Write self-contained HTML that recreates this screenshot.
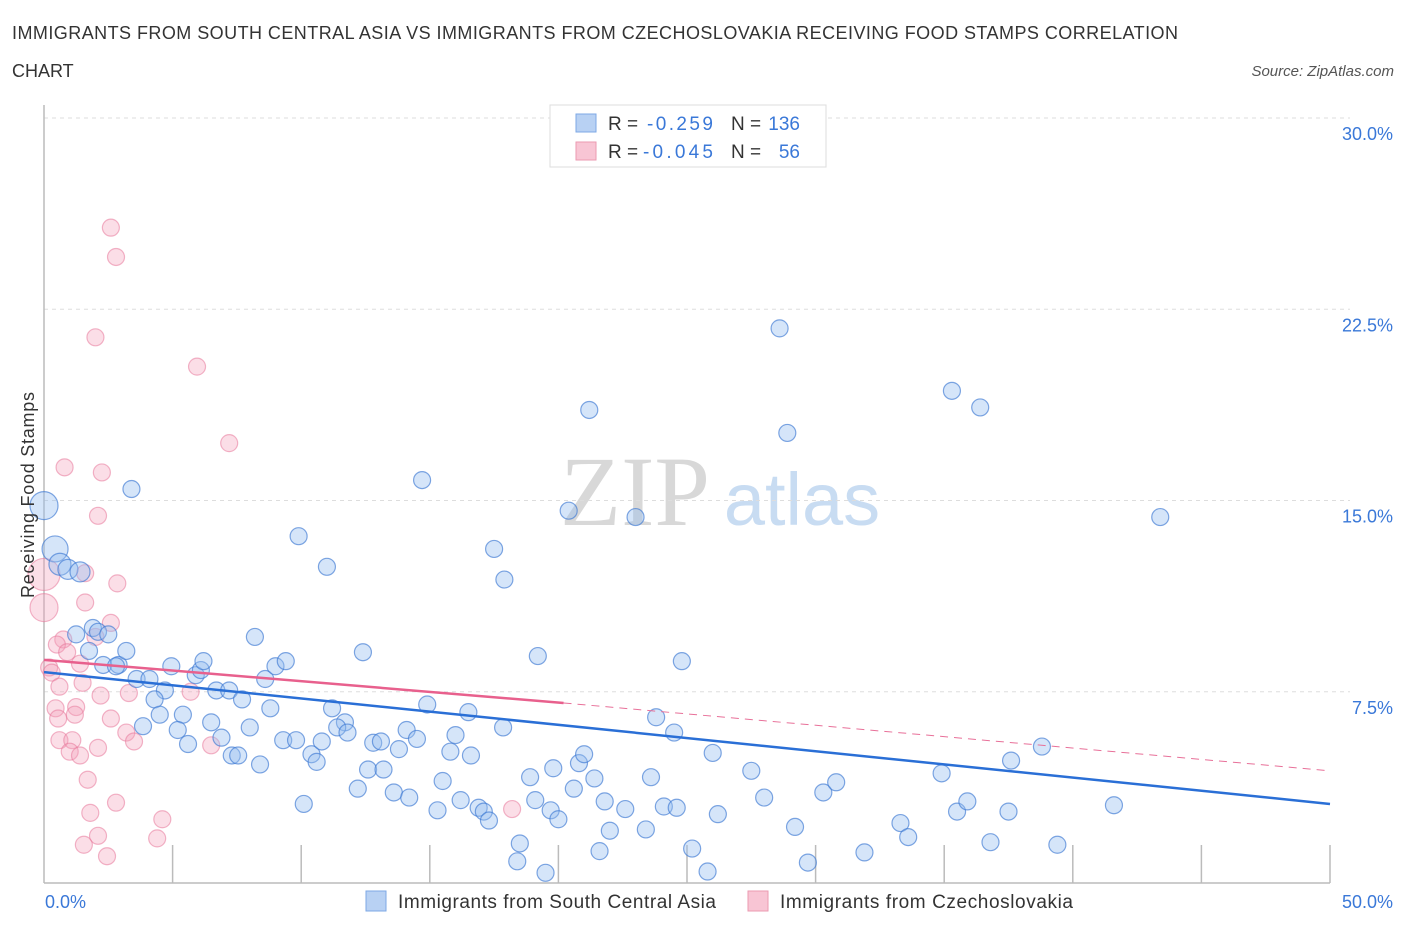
<!DOCTYPE html>
<html><head><meta charset="utf-8"><style>
body{margin:0;background:#fff;font-family:"Liberation Sans",sans-serif}
</style></head><body>
<svg id="chart" width="1406" height="930" font-family="Liberation Sans, sans-serif">
<text x="12" y="39" font-size="18" fill="#333" textLength="1166" lengthAdjust="spacing">IMMIGRANTS FROM SOUTH CENTRAL ASIA VS IMMIGRANTS FROM CZECHOSLOVAKIA RECEIVING FOOD STAMPS CORRELATION</text>
<text x="12" y="77" font-size="18" fill="#333">CHART</text>
<text x="1394" y="76" font-size="15" fill="#555" font-style="italic" text-anchor="end">Source: ZipAtlas.com</text>
<text x="635" y="525" font-size="100" fill="#d8d8d8" style="font-family:'Liberation Serif',serif" text-anchor="middle">ZIP</text>
<text x="802" y="525" font-size="74" fill="#c8dcf2" text-anchor="middle">atlas</text>
<g id="grid"></g>
<g id="axes"></g>
<g id="marks"></g>
<text transform="translate(34,495) rotate(-90)" font-size="18" fill="#333" text-anchor="middle" textLength="206">Receiving Food Stamps</text>
<text x="45" y="908" font-size="18" fill="#3a78d8">0.0%</text>
<text x="1393" y="908" font-size="18" fill="#3a78d8" text-anchor="end">50.0%</text>
<g>
<rect x="550" y="105" width="276" height="62" fill="#fff" stroke="#ddd"/>
<rect x="576" y="114" width="20" height="18" fill="#b8d1f3" stroke="#7ea8e6"/>
<rect x="576" y="142" width="20" height="18" fill="#f8c5d4" stroke="#eb9ab1"/>
<text x="608" y="130" font-size="19" fill="#333">R =</text>
<text x="647" y="130" font-size="19" fill="#3a78d8" textLength="66">-0.259</text>
<text x="731" y="130" font-size="19" fill="#333">N =</text>
<text x="800" y="130" font-size="19" fill="#3a78d8" text-anchor="end">136</text>
<text x="608" y="158" font-size="19" fill="#333">R =</text>
<text x="643" y="158" font-size="19" fill="#3a78d8" textLength="70">-0.045</text>
<text x="731" y="158" font-size="19" fill="#333">N =</text>
<text x="800" y="158" font-size="19" fill="#3a78d8" text-anchor="end">56</text>
</g>
<g>
<rect x="366" y="891" width="20" height="20" fill="#b8d1f3" stroke="#7ea8e6"/>
<text x="398" y="908" font-size="19" fill="#333" textLength="318">Immigrants from South Central Asia</text>
<rect x="748" y="891" width="20" height="20" fill="#f8c5d4" stroke="#eb9ab1"/>
<text x="780" y="908" font-size="19" fill="#333" textLength="293">Immigrants from Czechoslovakia</text>
</g>
</svg>
<script>
const yTicks=[7.5,15,22.5,30];
const yTickLabels=["7.5%","15.0%","22.5%","30.0%"];
const blueX=[0,0.43,0.62,0.93,1.4,3.4,9.9,11.0,14.7,17.5,17.9,20.4,21.2,23.0,28.6,28.9,35.3,36.4,43.4,19.2,24.8,12.4,8.2,1.25,1.9,2.1,2.5,1.75,2.3,2.9,3.2,2.8,3.6,4.1,4.7,4.95,5.9,6.1,6.2,6.7,7.2,4.3,7.7,8.6,9.0,9.4,4.5,5.4,3.85,5.2,6.5,8.0,8.8,5.6,6.9,7.3,7.55,8.4,9.3,9.8,10.4,10.6,10.8,11.2,11.7,11.4,11.8,10.1,12.2,12.6,12.8,13.2,13.1,13.6,13.8,14.1,14.5,14.9,14.2,15.3,15.5,15.8,16.0,16.5,16.6,16.2,16.9,17.1,17.3,17.85,18.5,18.4,18.9,19.1,19.5,19.7,19.8,20.0,20.6,20.8,21.0,21.4,21.6,21.8,22.0,22.6,23.4,23.6,23.8,24.1,24.6,24.5,25.2,25.8,26.0,26.2,27.5,28.0,29.2,29.7,30.3,30.8,31.9,33.3,33.6,34.9,35.5,35.9,36.8,37.5,37.6,38.8,39.4,41.6];
const blueY=[14.8,13.1,12.5,12.3,12.2,15.45,13.6,12.4,15.8,13.1,11.9,14.6,18.55,14.35,21.75,17.65,19.3,18.65,14.35,8.9,8.7,9.05,9.65,9.75,10.0,9.85,9.75,9.1,8.55,8.55,9.1,8.5,8.0,8.0,7.55,8.5,8.15,8.35,8.7,7.55,7.55,7.2,7.2,8.0,8.5,8.7,6.6,6.6,6.15,6.0,6.3,6.1,6.85,5.45,5.7,5.0,5.0,4.65,5.6,5.6,5.05,4.75,5.55,6.85,6.3,6.1,5.9,3.1,3.7,4.45,5.5,4.45,5.55,3.55,5.25,6.0,5.65,7.0,3.35,2.85,4.0,5.15,5.8,6.7,5.0,3.25,2.95,2.8,2.45,6.1,1.55,0.85,4.15,3.25,0.4,2.85,4.5,2.5,3.7,4.7,5.05,4.1,1.25,3.2,2.05,2.9,2.1,4.15,6.5,3.0,2.95,5.9,1.35,0.45,5.1,2.7,4.4,3.35,2.2,0.8,3.55,3.95,1.2,2.35,1.8,4.3,2.8,3.2,1.6,2.8,4.8,5.35,1.5,3.05];
const blueR=[14,13,11,10,10];
const pinkX=[0,0,2.6,2.8,2.0,5.95,7.2,0.8,2.25,2.1,2.85,1.6,1.6,2.6,0.75,0.5,0.9,1.4,0.2,0.3,2.0,1.5,0.6,2.2,3.3,5.7,0.45,1.25,1.2,2.6,0.55,3.2,0.6,1.1,2.1,3.5,6.5,1.0,1.4,1.7,2.8,1.8,4.6,2.1,1.55,4.4,2.45,18.2];
const pinkY=[10.8,12.1,25.7,24.55,21.4,20.25,17.25,16.3,16.1,14.4,11.75,11.0,12.15,10.2,9.55,9.35,9.05,8.6,8.45,8.25,9.65,7.85,7.7,7.35,7.45,7.5,6.85,6.9,6.6,6.45,6.45,5.9,5.6,5.6,5.3,5.55,5.4,5.15,5.0,4.05,3.15,2.75,2.5,1.85,1.5,1.75,1.05,2.9];
const pinkR=[14,16];
const blueLine=[[0,8.27],[50,3.1]];
const pinkSolid=[[0,8.75],[20.2,7.06]];
const pinkDash=[[20.2,7.06],[50,4.4]];

const X0=44,X1=1330,Y0=883,Y30=118;
function sx(v){return X0+(X1-X0)*v/50;}
function sy(v){return Y0-(Y0-Y30)*v/30;}
const NS="http://www.w3.org/2000/svg";
function mk(t,a,p){const e=document.createElementNS(NS,t);for(const k in a)e.setAttribute(k,a[k]);p.appendChild(e);return e;}
const grid=document.getElementById('grid'),axes=document.getElementById('axes'),marks=document.getElementById('marks');
yTicks.forEach((t,i)=>{
  const l=mk('line',{x1:X0,x2:X1+20,y1:sy(t),y2:sy(t),stroke:'#ddd','stroke-dasharray':'4,4'},grid);
  
  
  const tx=mk('text',{x:1393,y:sy(t)+22,'font-size':18,fill:'#3a78d8','text-anchor':'end'},grid);
  tx.textContent=yTickLabels[i];
  
  
});
let a=mk('line',{x1:X0,x2:X0,y1:105,y2:Y0,stroke:'#bbb','stroke-width':1.5},axes);


a=mk('line',{x1:X0,x2:X1,y1:Y0,y2:Y0,stroke:'#bbb','stroke-width':1.5},axes);


for(let i=1;i<=10;i++){
  const t=mk('line',{x1:sx(i*5),x2:sx(i*5),y1:Y0-38,y2:Y0,stroke:'#bbb','stroke-width':1.5},axes);
  
  
}
pinkX.forEach((x,i)=>{
  const c=mk('circle',{cx:sx(x),cy:sy(pinkY[i]),r:pinkR[i]||8.5,fill:'rgba(244,160,185,0.35)',stroke:'rgba(232,120,155,0.55)','stroke-width':1.2},marks);
  
  
});
blueX.forEach((x,i)=>{
  const c=mk('circle',{cx:sx(x),cy:sy(blueY[i]),r:blueR[i]||8.5,fill:'rgba(150,190,240,0.4)',stroke:'rgba(60,120,210,0.65)','stroke-width':1.2},marks);
  
  
});
function ln(p,attrs,name){const l=mk('line',Object.assign({x1:sx(p[0][0]),y1:sy(p[0][1]),x2:sx(p[1][0]),y2:sy(p[1][1])},attrs),marks);
  
  }
ln(pinkDash,{stroke:'#e87099','stroke-width':1,'stroke-dasharray':'8,6'},'czech-trend-dashed');
ln(blueLine,{stroke:'#2a6fd6','stroke-width':2.5},'asia-trend-line');
ln(pinkSolid,{stroke:'#e8608d','stroke-width':2.5},'czech-trend-line');
</script>
</body></html>
